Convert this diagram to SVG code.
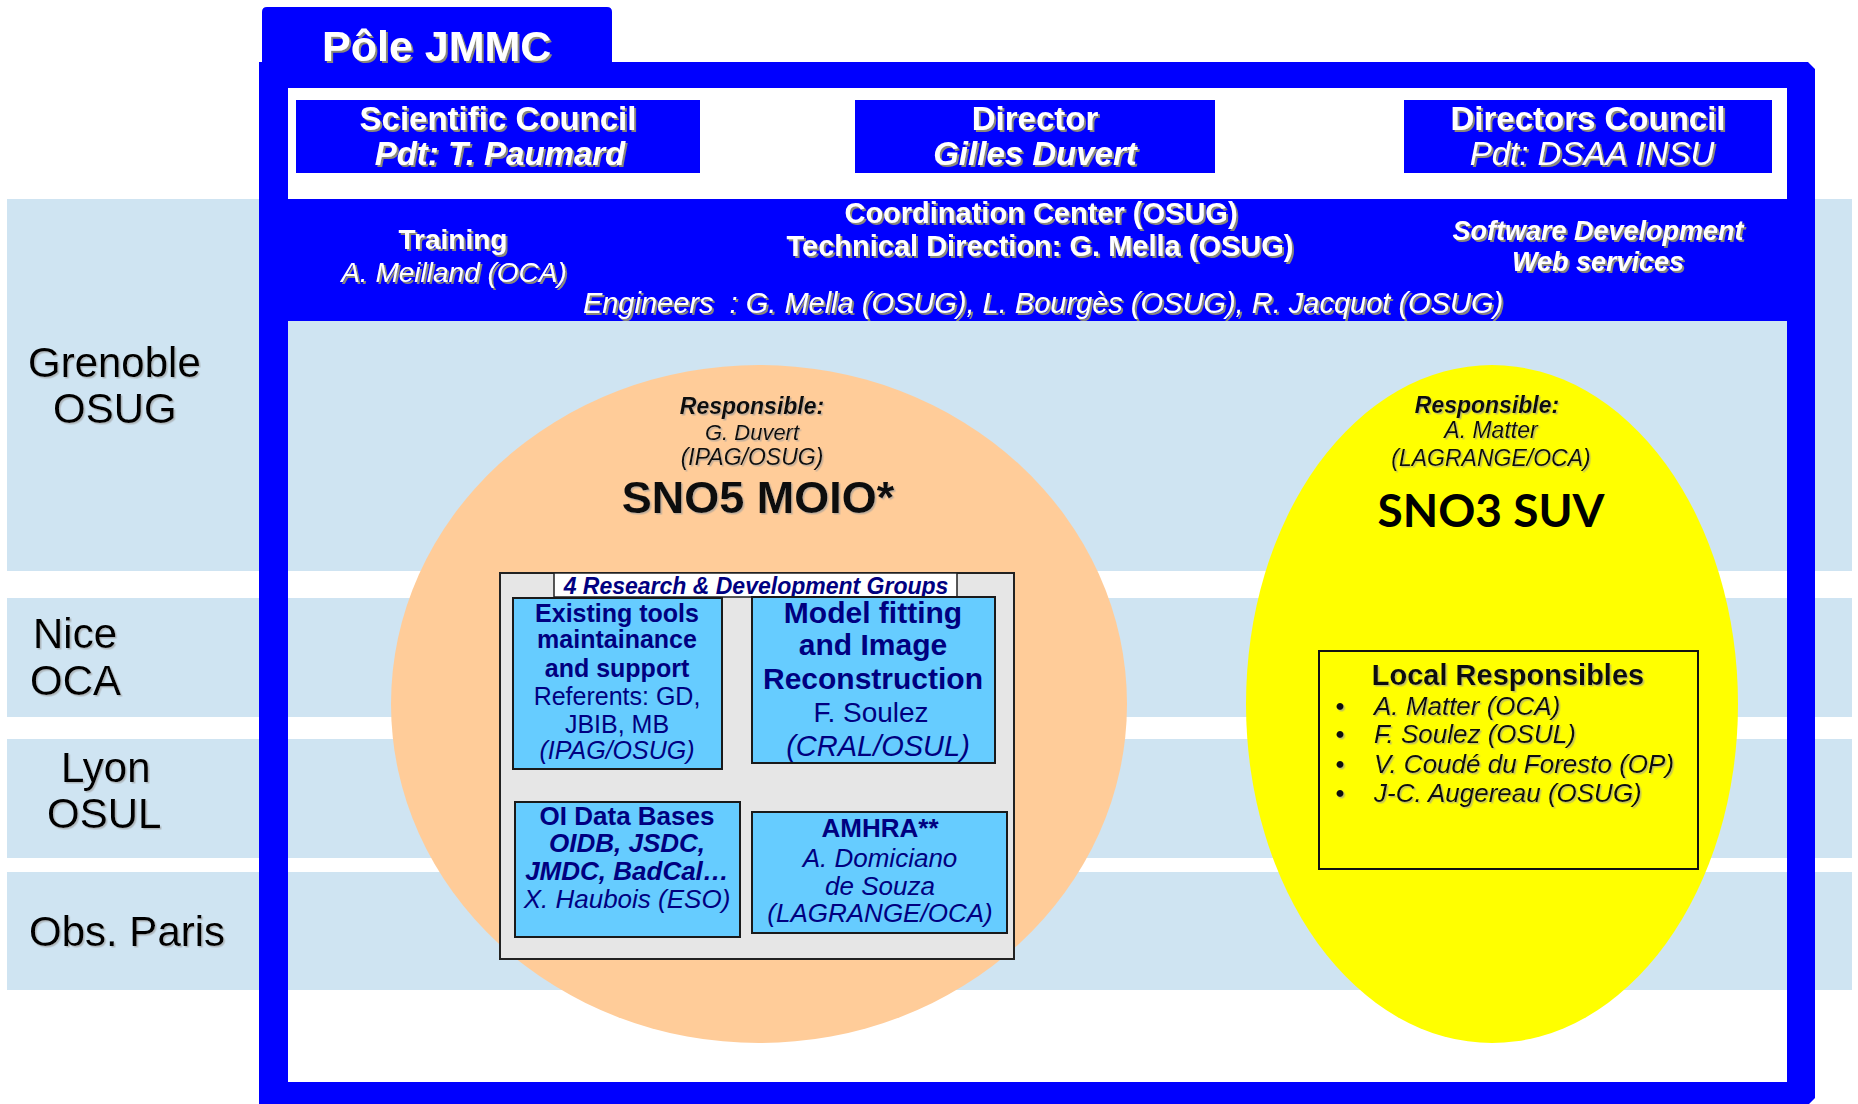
<svg xmlns="http://www.w3.org/2000/svg" width="1858" height="1104" viewBox="0 0 1858 1104">
<defs>
<filter id="sh" x="-5%" y="-20%" width="110%" height="150%"><feDropShadow dx="2" dy="2" stdDeviation="0.5" flood-color="#8a887a" flood-opacity="1"/></filter>
<filter id="sl" x="-5%" y="-20%" width="110%" height="150%"><feDropShadow dx="1.5" dy="1.5" stdDeviation="0.5" flood-color="#9a9a9a" flood-opacity="0.6"/></filter>
</defs>
<style>
text{font-family:"Liberation Sans",Arial,sans-serif}
.w{fill:#fff;filter:url(#sh)}
.c{text-anchor:middle}
.b{font-weight:bold}
.i{font-style:italic}
.band{fill:#cfe4f2}
.blue{fill:#0000ff}
.site{font-size:42px;fill:#000;filter:url(#sl)}
.dk{fill:#111;filter:url(#sl)}
.nv{fill:#000080}
.grp{fill:#66ccff;stroke:#1a1a1a;stroke-width:2}
</style>
<rect width="1858" height="1104" fill="#fff"/>
<g id="bands">
<rect class="band" x="7" y="199" width="1845" height="372"/>
<rect class="band" x="7" y="598" width="1845" height="119"/>
<rect class="band" x="7" y="739" width="1845" height="119"/>
<rect class="band" x="7" y="872" width="1845" height="118"/>
</g>
<g id="sites">
<text class="site" x="28" y="377">Grenoble</text>
<text class="site" x="53" y="423">OSUG</text>
<text class="site" x="33" y="648">Nice</text>
<text class="site" x="30" y="695">OCA</text>
<text class="site" x="61" y="782">Lyon</text>
<text class="site" x="47" y="828">OSUL</text>
<text class="site" x="29" y="946">Obs. Paris</text>
</g>
<g id="pole-jmmc">
<path class="blue" d="M262,75 V12 Q262,7 267,7 H607 Q612,7 612,12 V65 Z"/>
<path class="blue" fill-rule="evenodd" d="M259,62 H1808 L1815,69 V1098 L1809,1104 H259 Z M288,88 V1082 H1787 V88 Z"/>
<text class="w b" x="322" y="61" font-size="43">Pôle JMMC</text>
</g>
<g id="scientific-council">
<rect class="blue" x="296" y="100" width="404" height="73"/>
<text class="w b c" x="498" y="130" font-size="33">Scientific Council</text>
<text class="w b i c" x="500" y="165" font-size="33">Pdt: T. Paumard</text>
</g>
<g id="director">
<rect class="blue" x="855" y="100" width="360" height="73"/>
<text class="w b c" x="1035" y="130" font-size="33">Director</text>
<text class="w b i c" x="1035" y="165" font-size="33">Gilles Duvert</text>
</g>
<g id="directors-council">
<rect class="blue" x="1404" y="100" width="368" height="73"/>
<text class="w b c" x="1588" y="130" font-size="33">Directors Council</text>
<text class="w i c" x="1592" y="165" font-size="33">Pdt: DSAA INSU</text>
</g>
<g id="coordination-center">
<rect class="blue" x="288" y="199" width="1499" height="122"/>
<text class="w b c" x="453" y="249" font-size="28">Training</text>
<text class="w i c" x="454" y="282" font-size="28">A. Meilland (OCA)</text>
<text class="w b c" x="1041" y="223" font-size="29">Coordination Center (OSUG)</text>
<text class="w b c" x="1040" y="256" font-size="29">Technical Direction: G. Mella (OSUG)</text>
<text class="w b i c" x="1598" y="240" font-size="27">Software Development</text>
<text class="w b i c" x="1598" y="271" font-size="27">Web services</text>
<text class="w i c" x="1043" y="313" font-size="29">Engineers&#160; : G. Mella (OSUG), L. Bourgès (OSUG), R. Jacquot (OSUG)</text>
</g>
<g id="sno5-moio">
<ellipse cx="759" cy="704" rx="368" ry="339" fill="#ffcc99"/>
<text class="dk b i c" x="752" y="414" font-size="23">Responsible:</text>
<text class="dk i c" x="752" y="440" font-size="22">G. Duvert</text>
<text class="dk i c" x="752" y="465" font-size="23">(IPAG/OSUG)</text>
<text class="dk b c" x="758" y="513" font-size="45">SNO5 MOIO*</text>
</g>
<g id="rd-groups">
<rect x="500" y="573" width="514" height="386" fill="#e6e6e6" stroke="#222" stroke-width="2"/>
<rect x="554" y="573" width="403" height="24" fill="#fff" stroke="#222" stroke-width="1.5"/>
<text class="nv b i c" x="756" y="594" font-size="23">4 Research &amp; Development Groups</text>
</g>
<g id="existing-tools">
<rect class="grp" x="513" y="598" width="209" height="171"/>
<text class="nv b c" x="617" y="622" font-size="25">Existing tools</text>
<text class="nv b c" x="617" y="648" font-size="25">maintainance</text>
<text class="nv b c" x="617" y="677" font-size="25">and support</text>
<text class="nv c" x="617" y="705" font-size="25">Referents: GD,</text>
<text class="nv c" x="617" y="733" font-size="25">JBIB, MB</text>
<text class="nv i c" x="617" y="759" font-size="25">(IPAG/OSUG)</text>
</g>
<g id="model-fitting">
<rect class="grp" x="752" y="597" width="243" height="166"/>
<text class="nv b c" x="873" y="623" font-size="30">Model fitting</text>
<text class="nv b c" x="873" y="655" font-size="30">and Image</text>
<text class="nv b c" x="873" y="689" font-size="30">Reconstruction</text>
<text class="nv c" x="871" y="722" font-size="28">F. Soulez</text>
<text class="nv i c" x="878" y="756" font-size="29">(CRAL/OSUL)</text>
</g>
<g id="oi-data-bases">
<rect class="grp" x="515" y="802" width="225" height="135"/>
<text class="nv b c" x="627" y="825" font-size="26">OI Data Bases</text>
<text class="nv b i c" x="627" y="852" font-size="26">OIDB, JSDC,</text>
<text class="nv b i c" x="627" y="880" font-size="26">JMDC, BadCal…</text>
<text class="nv i c" x="627" y="908" font-size="26">X. Haubois (ESO)</text>
</g>
<g id="amhra">
<rect class="grp" x="752" y="812" width="255" height="121"/>
<text class="nv b c" x="880" y="837" font-size="26">AMHRA**</text>
<text class="nv i c" x="880" y="867" font-size="26">A. Domiciano</text>
<text class="nv i c" x="880" y="895" font-size="26">de Souza</text>
<text class="nv i c" x="880" y="922" font-size="26">(LAGRANGE/OCA)</text>
</g>
<g id="sno3-suv">
<ellipse cx="1492" cy="704" rx="246" ry="339" fill="#ffff00"/>
<text class="dk b i c" x="1487" y="413" font-size="23">Responsible:</text>
<text class="dk i c" x="1491" y="438" font-size="23">A. Matter</text>
<text class="dk i c" x="1491" y="466" font-size="23">(LAGRANGE/OCA)</text>
<text class="c" x="1491" y="527" font-size="46" font-weight="bold" fill="#000" style="font-family:Lato,'Open Sans',sans-serif">SNO3 SUV</text>
</g>
<g id="local-responsibles">
<rect x="1319" y="651" width="379" height="218" fill="#ffff00" stroke="#111" stroke-width="2"/>
<text class="dk b c" x="1508" y="685" font-size="29">Local Responsibles</text>
<text class="dk c" x="1340" y="715" font-size="26">•</text>
<text class="dk i" x="1374" y="715" font-size="26">A. Matter (OCA)</text>
<text class="dk c" x="1340" y="743" font-size="26">•</text>
<text class="dk i" x="1374" y="743" font-size="26">F. Soulez (OSUL)</text>
<text class="dk c" x="1340" y="773" font-size="26">•</text>
<text class="dk i" x="1374" y="773" font-size="26">V. Coudé du Foresto (OP)</text>
<text class="dk c" x="1340" y="802" font-size="26">•</text>
<text class="dk i" x="1374" y="802" font-size="26">J-C. Augereau (OSUG)</text>
</g>
<g id="connectors"/>
</svg>
